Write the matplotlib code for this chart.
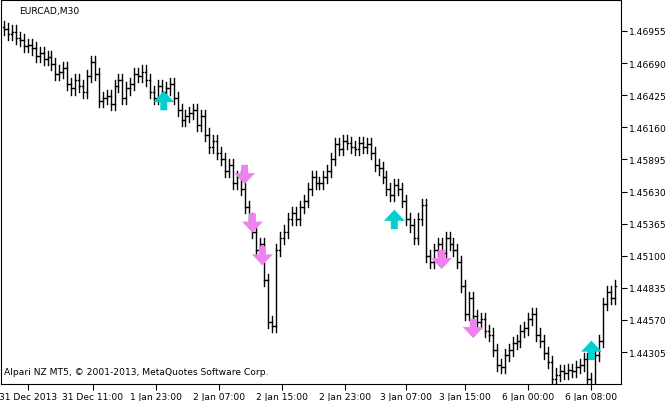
import matplotlib
matplotlib.use("Agg")
import matplotlib.pyplot as plt

closes = [1.4697,1.4693,1.4695,1.4690,1.4688,1.4683,1.4684,1.4681,1.4675,1.4677,1.4672,1.4674,1.4668,1.4660,1.4662,1.4665,
1.4652,1.4648,1.4655,1.4650,1.4645,1.4658,1.4670,1.4660,1.4638,1.4640,1.4642,1.4635,1.4650,1.4655,1.4640,1.4648,
1.4652,1.4660,1.4658,1.4662,1.4655,1.4645,1.4640,1.4650,1.4645,1.4648,1.4652,1.4640,1.4630,1.4622,1.4625,1.4628,
1.4630,1.4618,1.4625,1.4610,1.4600,1.4605,1.4595,1.4590,1.4580,1.4585,1.4570,1.4575,1.4565,1.4550,1.4540,1.4530,
1.4515,1.4520,1.4490,1.4455,1.4452,1.4515,1.4525,1.4530,1.4540,1.4545,1.4540,1.4550,1.4555,1.4565,1.4575,1.4570,
1.4570,1.4575,1.4580,1.4590,1.4602,1.4598,1.4605,1.4603,1.4600,1.4598,1.4603,1.4600,1.4602,1.4595,1.4585,1.4582,
1.4575,1.4565,1.4560,1.4568,1.4565,1.4555,1.4540,1.4535,1.4525,1.4540,1.4552,1.4510,1.4505,1.4515,1.4520,1.4512,
1.4525,1.4520,1.4515,1.4505,1.4485,1.4462,1.4475,1.4460,1.4455,1.4458,1.4448,1.4445,1.4432,1.4420,1.4418,1.4428,
1.4432,1.4438,1.4440,1.4448,1.4450,1.4458,1.4462,1.4445,1.4440,1.4430,1.4422,1.4408,1.4412,1.4415,1.4413,1.4416,
1.4415,1.4418,1.4420,1.4425,1.4408,1.4400,1.4428,1.4440,1.4470,1.4480,1.4475,1.4485]
opens = [closes[0] + 0.0002] + closes[:-1]
wick = 0.0005

up_bars = [40.5, 99, 149]
up_prices = [1.4638, 1.4540, 1.4432]
dn_bars = [61, 63, 65.5, 111, 119]
dn_prices = [1.4577, 1.4537, 1.4510, 1.4507, 1.4450]

yticks = [1.46955,1.46690,1.46425,1.46160,1.45895,1.45630,1.45365,1.45100,1.44835,1.44570,1.44305]
xtick_pos = [6, 22.5, 38.5, 54.5, 70.5, 86.5, 102, 117, 133, 149]
xtick_labels = ["31 Dec 2013","31 Dec 11:00","1 Jan 23:00","2 Jan 07:00","2 Jan 15:00",
                "2 Jan 23:00","3 Jan 07:00","3 Jan 15:00","6 Jan 00:00","6 Jan 08:00"]

fs = 6.6
fig = plt.figure(figsize=(6.70, 4.02), dpi=100)
ax = fig.add_axes([1/670, 17/402, 620/670, 384/402])
for i, (o, c) in enumerate(zip(opens, closes)):
    hi = max(o, c) + wick
    lo = min(o, c) - wick
    ax.plot([i, i], [lo, hi], color="black", lw=1)
    ax.plot([i - 0.35, i], [o, o], color="black", lw=1)
    ax.plot([i, i + 0.35], [c, c], color="black", lw=1)

def arrow(b, p, up, color):
    d = 0.0016
    start = (b, p - d / 2) if up else (b, p + d / 2)
    end = (b, p + d / 2) if up else (b, p - d / 2)
    ax.annotate("", xy=end, xytext=start,
                arrowprops=dict(arrowstyle="simple,head_width=1.5,head_length=0.8,tail_width=0.5",
                                color=color, lw=0, shrinkA=0, shrinkB=0))

for b, p in zip(up_bars, up_prices):
    arrow(b, p, True, "#00CED1")
for b, p in zip(dn_bars, dn_prices):
    arrow(b, p, False, "#EE82EE")

ax.set_xlim(-0.8, 156.5)
ax.set_ylim(1.44042, 1.47210)
ax.yaxis.tick_right()
ax.set_yticks(yticks)
ax.set_yticklabels([f"{v:.5f}" for v in yticks], fontsize=fs)
ax.set_xticks(xtick_pos)
ax.set_xticklabels(xtick_labels, fontsize=fs)
ax.tick_params(length=4, width=0.8, pad=2)
for s in ax.spines.values():
    s.set_linewidth(0.8)
ax.text(0.03, 0.985, "EURCAD,M30", transform=ax.transAxes, fontsize=fs, va="top")
ax.text(0.005, 0.02, "Alpari NZ MT5, © 2001-2013, MetaQuotes Software Corp.",
        transform=ax.transAxes, fontsize=fs, va="bottom")
fig.savefig("out.png", dpi=100)
